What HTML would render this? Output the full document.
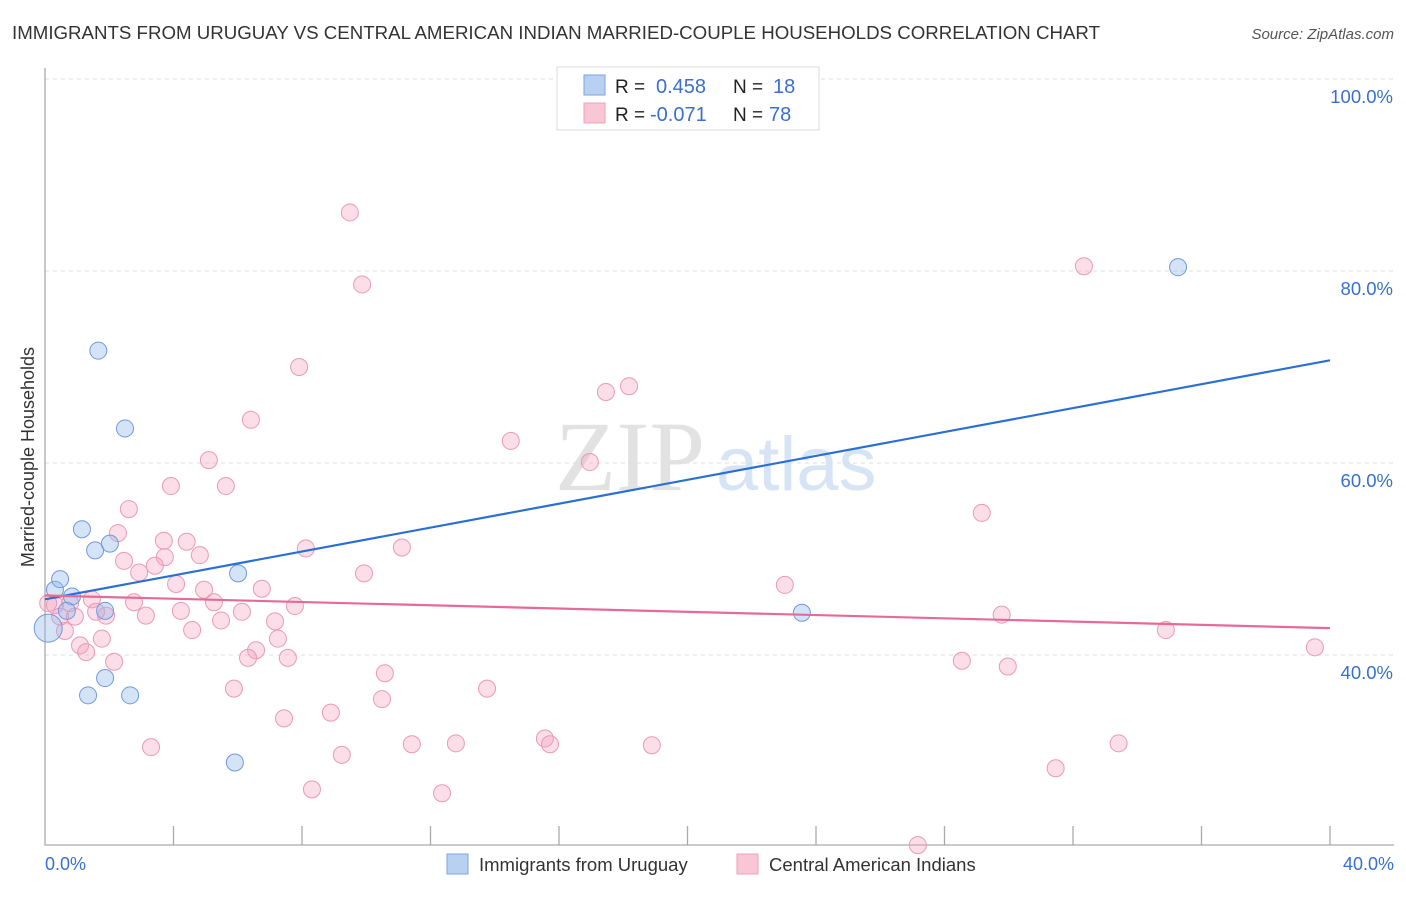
<!DOCTYPE html>
<html><head><meta charset="utf-8"><style>
body{margin:0;background:#fff;font-family:"Liberation Sans",sans-serif;}
svg text{font-family:"Liberation Sans",sans-serif;}
</style></head><body>
<svg width="1406" height="892" xmlns="http://www.w3.org/2000/svg">
<text x="12" y="39" font-size="18" fill="#333" textLength="1088" lengthAdjust="spacingAndGlyphs">IMMIGRANTS FROM URUGUAY VS CENTRAL AMERICAN INDIAN MARRIED-COUPLE HOUSEHOLDS CORRELATION CHART</text>
<text x="1394" y="39" font-size="15" fill="#555" font-style="italic" text-anchor="end">Source: ZipAtlas.com</text>
<text x="555" y="490" font-size="100" fill="#e2e2e2" style="font-family:'Liberation Serif',serif">ZIP</text>
<text x="716" y="490" font-size="76" fill="#d6e4f5">atlas</text>
<g id="grid"></g>
<g id="axes"></g>
<g id="pts"></g>
<g id="lines"></g>
<text transform="translate(34,457) rotate(-90)" font-size="18" fill="#333" text-anchor="middle">Married-couple Households</text>
<text x="45" y="870" font-size="18" fill="#3a6fd0">0.0%</text>
<text x="1394" y="870" font-size="18" fill="#3a6fd0" text-anchor="end">40.0%</text>
<g>
<rect x="557" y="67" width="262" height="63" fill="#fff" stroke="#ddd"/>
<rect x="584" y="75" width="21" height="20" fill="#b8d0f2" stroke="#7ea4e0"/>
<rect x="584" y="103" width="21" height="20" fill="#f9c6d5" stroke="#eea0b6"/>
<text x="615" y="93" font-size="19" fill="#222">R = </text><text x="656" y="93" font-size="20" fill="#3a6fd0">0.458</text>
<text x="733" y="93" font-size="19" fill="#222">N = </text><text x="773" y="93" font-size="20" fill="#3a6fd0">18</text>
<text x="615" y="121" font-size="19" fill="#222">R = </text><text x="650" y="121" font-size="20" fill="#3a6fd0">-0.071</text>
<text x="733" y="121" font-size="19" fill="#222">N = </text><text x="769" y="121" font-size="20" fill="#3a6fd0">78</text>
</g>
<g>
<rect x="447" y="854" width="21" height="20" fill="#b8d0f2" stroke="#7ea4e0"/>
<text x="479" y="871" font-size="18.5" fill="#333">Immigrants from Uruguay</text>
<rect x="737" y="854" width="21" height="20" fill="#f9c6d5" stroke="#eea0b6"/>
<text x="769" y="871" font-size="18.5" fill="#333">Central American Indians</text>
</g>
</svg>
<script>
const yTicks=[40,60,80,100];
const xTicks=[0,4,8,12,16,20,24,28,32,36,40];
const blueX=[0.31,0.47,0.84,0.68,1.87,1.66,2.49,1.15,1.56,2.02,6.01,1.34,1.87,2.65,5.91,23.56,35.27,0.1];
const blueY=[46.8,47.9,46.1,44.6,44.6,71.7,63.6,53.1,50.9,51.6,48.5,35.8,37.6,35.8,28.8,44.4,80.4,42.8];
const blueLine=[45.8,70.7];
const pinkX=[9.49,9.87,7.91,6.41,5.1,3.92,5.63,2.61,2.27,3.7,4.41,4.82,3.73,2.46,3.42,2.93,4.08,1.46,2.77,5.26,4.95,6.75,8.12,11.11,9.93,4.23,3.14,1.9,0.93,1.59,6.13,5.48,7.16,7.78,4.58,0.62,1.77,1.09,7.25,6.57,6.32,7.56,2.15,1.28,10.58,5.88,13.76,7.44,8.9,10.49,3.3,9.24,11.42,12.79,15.56,15.72,18.89,8.31,12.36,14.5,16.96,17.46,18.18,23.03,29.16,29.78,28.54,29.97,32.34,34.89,39.53,31.46,33.42,27.17,0.31,0.1,0.47,0.78];
const pinkY=[86.1,78.6,70.0,64.5,60.3,57.6,57.6,55.2,52.7,51.9,51.8,50.4,50.2,49.8,49.3,48.6,47.4,45.8,45.5,45.5,46.8,46.9,51.1,51.2,48.5,44.6,44.1,44.1,44.0,44.5,44.5,43.6,43.5,45.1,42.6,42.5,41.7,41.0,41.7,40.5,39.7,39.7,39.3,40.3,38.1,36.5,36.5,33.4,34.0,35.4,30.4,29.6,30.7,30.8,31.3,30.7,30.6,26.0,25.6,62.3,60.1,67.4,68.0,47.3,54.8,44.2,39.4,38.8,80.5,42.6,40.8,28.2,30.8,20.2,45.2,45.4,44.0,45.4];
const pinkLine=[46.2,42.8];
const NS='http://www.w3.org/2000/svg';
const X0=45,X1=1330,Y40=655,PX=9.6;
const sx=v=>X0+(v/40)*(X1-X0);
const sy=v=>Y40-(v-40)*PX;
function mk(tag,attrs,parent){const e=document.createElementNS(NS,tag);for(const k in attrs)e.setAttribute(k,attrs[k]);document.getElementById(parent).appendChild(e);return e;}
yTicks.forEach(t=>{
 const l=mk('line',{x1:X0,x2:1394,y1:sy(t),y2:sy(t),stroke:'#ddd','stroke-dasharray':'4,4'},'grid');
 
 
 const tx=mk('text',{x:1393,y:sy(t)+24,'font-size':18.5,fill:'#3a6fd0','text-anchor':'end'},'grid');
 tx.textContent=t.toFixed(1)+'%';
 
 
});
const ax=mk('path',{d:`M${X0} 68 V845 H1394`,fill:'none',stroke:'#aaa','stroke-width':1.3},'axes');


xTicks.forEach(t=>{
 if(t===0)return;
 const l=mk('line',{x1:sx(t),x2:sx(t),y1:826,y2:845,stroke:'#aaa','stroke-width':1.3},'axes');
 
 
});
pinkX.forEach((x,i)=>{
 const c=mk('circle',{cx:sx(x),cy:sy(pinkY[i]),r:8.5,fill:'rgba(244,160,188,0.35)',stroke:'#eb9ab4','stroke-width':1},'pts');
 
 
});
blueX.forEach((x,i)=>{
 const c=mk('circle',{cx:sx(x),cy:sy(blueY[i]),r:i===17?14:8.5,fill:'rgba(150,185,235,0.4)',stroke:'#6f9ae0','stroke-width':1},'pts');
 
 
});
const bl=mk('line',{x1:sx(0),y1:sy(blueLine[0]),x2:sx(40),y2:sy(blueLine[1]),stroke:'#2a6fd6','stroke-width':2.2},'lines');


const pl=mk('line',{x1:sx(0),y1:sy(pinkLine[0]),x2:sx(40),y2:sy(pinkLine[1]),stroke:'#e66a98','stroke-width':2.2},'lines');


</script>
</body></html>
